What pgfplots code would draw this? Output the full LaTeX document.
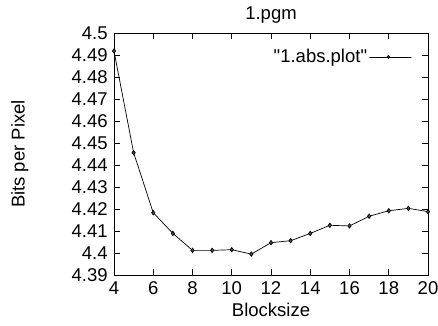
\documentclass[border=0pt]{standalone}
\usepackage{pgfplots}
\pgfplotsset{compat=1.18}
\usepackage{fontspec}
\setmainfont{Liberation Sans}
\begin{document}
\fontsize{18.5}{21}\selectfont
\begin{tikzpicture}[x=1pt,y=1pt]
\begin{axis}[
  scale only axis,
  width=314pt, height=242pt,
  xmin=4, xmax=20, ymin=4.39, ymax=4.5,
  xtick={4,6,...,20},
  ytick={4.39,4.40,...,4.5},
  yticklabels={4.39,4.4,4.41,4.42,4.43,4.44,4.45,4.46,4.47,4.48,4.49,4.5},
  tick align=inside,
  major tick length=6pt,
  tick style={black, line width=0.6pt},
  axis line style={line width=0.8pt},
  /pgf/number format/assume math mode=true,
  ticklabel style={font=\fontsize{18.5}{21}\selectfont},
  label style={font=\fontsize{18.5}{21}\selectfont},
  title style={font=\fontsize{18.5}{21}\selectfont, yshift=-3pt},
  title={1.pgm},
  xlabel={Blocksize},
  ylabel={Bits per Pixel},
  xlabel style={yshift=4pt},
  ylabel style={at={(rel axis cs:-0.30,0.5)}, anchor=center},
  legend style={draw=none, fill=none, at={(rel axis cs:0.949,0.901)}, anchor=east, font=\fontsize{18.5}{21}\selectfont, inner sep=0pt},
  legend plot pos=right,
  legend cell align=right,
  legend image code/.code={
    \path (0pt,0pt) rectangle (42pt,0pt);
    \draw[#1, mark=none] (7pt,0pt) -- (42pt,0pt);
    \draw[#1, only marks, mark size=1.6pt] plot coordinates {(19pt,0pt)};
  },
]
\addplot[black, line width=0.7pt, mark=diamond*, mark size=2.2pt, mark options={fill=black!70}] coordinates {
(4,4.4918) (5,4.4456) (6,4.4183) (7,4.4089) (8,4.4012) (9,4.4012) (10,4.4015)
(11,4.3995) (12,4.4047) (13,4.4056) (14,4.4089) (15,4.4126) (16,4.4123)
(17,4.4167) (18,4.4192) (19,4.4203) (20,4.4188)
};
\addlegendentry{\textquotedbl 1.abs.plot\textquotedbl}
\coordinate (bl) at (rel axis cs:0,0);
\end{axis}
\pgfresetboundingbox
\path (bl) ++(-114pt,-50pt) rectangle ++(438pt,325pt);
\end{tikzpicture}
\end{document}
